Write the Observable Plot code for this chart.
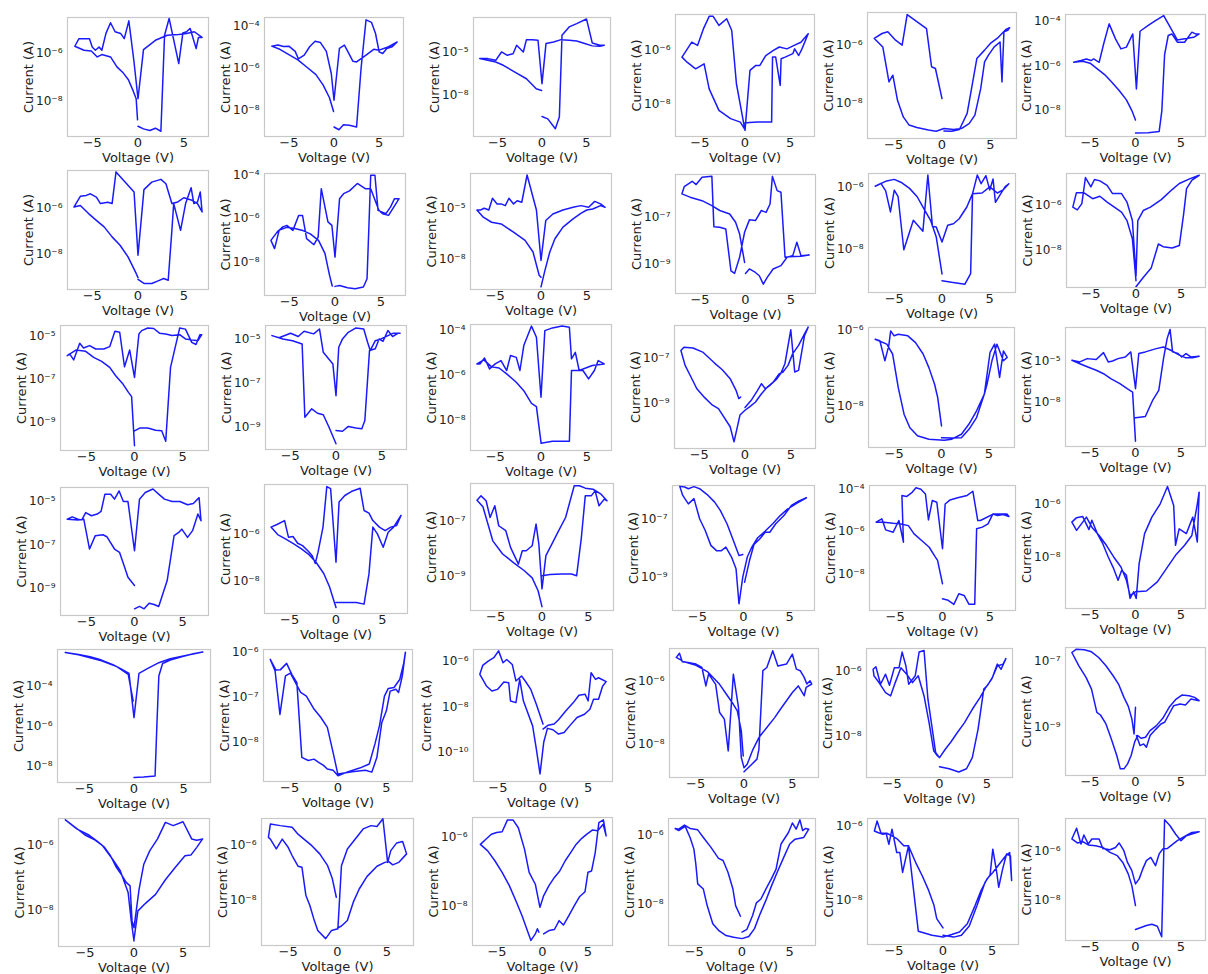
<!DOCTYPE html>
<html><head><meta charset="utf-8">
<script src="https://cdn.jsdelivr.net/npm/d3@7"></script>
<script src="https://cdn.jsdelivr.net/npm/@observablehq/plot@0.6"></script>
<style>
body{margin:0;background:#fff;}
#chart{position:relative;width:1208px;height:974px;overflow:hidden;background:#fff;}
#chart svg{position:absolute;}
#chart g[aria-label="y-axis tick label"] text{font-size:12px;}
</style></head><body><div id="chart"></div>
<script>
// Each curve: [voltage (V), log10 of current (A)], in sweep order.
const iv01=[[0,-9.06],[0.6,-9.17],[1.3,-9.24],[1.9,-9.14],[2.5,-9.27],[2.9,-5.23],[3.4,-4.52],[4.45,-6.42],[4.9,-5.13],[5.3,-5.08],[5.7,-4.94],[6.35,-5.79],[6.6,-5.32],[7,-5.32],[6.15,-5.08],[5.3,-5.15],[4.45,-5.2],[3.2,-5.23],[1.9,-5.44],[0.6,-5.83],[0,-7.9],[-0.45,-6.3],[-1,-4.62],[-1.5,-5.37],[-1.9,-5.15],[-2.5,-5.08],[-3,-4.7],[-3.5,-5.15],[-3.95,-5.86],[-4.25,-5.72],[-4.65,-5.86],[-5,-5.72],[-5.3,-5.37],[-5.9,-5.37],[-6.45,-5.37],[-6.9,-5.69],[-5.9,-5.86],[-5.1,-5.89],[-4.45,-6.14],[-3.95,-6.04],[-3,-6.14],[-2.3,-6.56],[-1.6,-6.82],[-1.05,-7.1],[-0.55,-7.55],[-0.2,-7.9],[-0.05,-8.79]];
const iv02=[[0,-8.79],[0.55,-8.92],[1.05,-8.68],[1.7,-8.71],[2.5,-8.79],[3,-6],[3.55,-3.7],[4.15,-3.82],[4.6,-4.35],[5,-5.22],[5.4,-5.3],[5.85,-5.06],[6.45,-4.98],[7,-4.75],[6.05,-4.98],[5,-5.14],[4.4,-5.1],[3.55,-5.38],[2.5,-5.7],[2.1,-5.67],[1.45,-5.14],[1.15,-4.9],[0.6,-5.06],[0,-7.52],[-0.3,-6.25],[-0.85,-5.2],[-1.5,-4.78],[-2.1,-4.72],[-2.7,-4.98],[-3.3,-5.38],[-3.95,-5.55],[-4.3,-5.2],[-5,-4.95],[-5.6,-4.97],[-6.2,-4.9],[-6.9,-4.95],[-6,-5.1],[-5,-5.35],[-4,-5.6],[-3,-5.95],[-2,-6.3],[-1.2,-6.8],[-0.5,-7.4],[-0.05,-8.05]];
const iv03=[[0,-9.46],[0.65,-9.62],[1.5,-10.31],[1.95,-9.5],[2.25,-3.85],[3.05,-3.27],[3.9,-3.04],[5,-2.72],[5.65,-4.38],[6.5,-4.54],[7,-4.54],[6.5,-4.6],[5.65,-4.58],[4.8,-4.42],[3.9,-4.24],[3.05,-4.19],[2.15,-4.15],[1.3,-4.31],[0.45,-4.42],[0,-7.19],[-0.45,-4.19],[-1.1,-4.15],[-1.75,-4.15],[-2.1,-5],[-2.85,-4.54],[-3.25,-5.12],[-3.9,-5.23],[-4.55,-5],[-5.2,-5.58],[-6.1,-5.46],[-7,-5.46],[-6.1,-5.58],[-5.2,-5.69],[-4.35,-5.92],[-3.05,-6.39],[-1.75,-6.85],[-0.65,-7.54],[-0.05,-7.66]];
const iv04=[[0,-8.72],[0.5,-8.7],[1.4,-8.69],[2.3,-8.69],[2.95,-8.69],[3.05,-6.25],[3.4,-6.25],[3.9,-7.31],[4,-6.31],[4.45,-6.25],[5.3,-6.12],[5.5,-5.94],[5.95,-6.19],[6.3,-5.95],[7,-5.37],[6.2,-5.69],[5.5,-5.8],[4.65,-5.94],[3.8,-5.87],[3.15,-6],[2.3,-6.19],[1.65,-6.56],[1.2,-6.56],[0.55,-6.75],[0,-9],[-0.95,-7.25],[-1.47,-5.25],[-2.03,-4.81],[-2.89,-5.06],[-3.53,-4.72],[-3.97,-4.72],[-4.61,-5.19],[-5.26,-5.81],[-5.9,-5.69],[-6.98,-6.25],[-6.42,-6.44],[-5.47,-6.69],[-4.53,-6.5],[-3.97,-7.44],[-2.89,-8.25],[-1.6,-8.56],[-0.52,-8.69],[0,-8.97]];
const iv05=[[0.2,-8.94],[1,-8.95],[1.8,-8.89],[2.6,-8.34],[3.6,-6.46],[4.4,-6.17],[5,-5.94],[5.8,-5.74],[6.6,-5.46],[7,-5.4],[6.8,-5.49],[6.4,-5.54],[6.2,-7.26],[6,-5.89],[5.4,-6.06],[4.8,-6.34],[4.4,-6.57],[4,-7.49],[3.4,-8.4],[2.8,-8.69],[2,-8.86],[1.2,-8.89],[0.2,-8.86],[-0.6,-8.95],[-1.4,-8.91],[-2.6,-8.82],[-3.4,-8.74],[-4,-8.46],[-4.6,-7.89],[-5.08,-7.03],[-5.48,-7.26],[-6.12,-6.06],[-7,-5.77],[-6.2,-5.6],[-5.6,-5.54],[-4.8,-5.83],[-4.12,-6],[-3.6,-4.95],[-1.6,-5.43],[-1.08,-6.74],[-0.68,-6.8],[0,-7.83]];
const iv06=[[0,-9],[1.4,-8.99],[2.6,-8.94],[2.9,-8],[3.2,-5.5],[3.6,-4.64],[4,-4.57],[4.6,-4.94],[5.4,-4.94],[6.2,-4.49],[6.6,-4.57],[7,-4.57],[6.4,-4.72],[5.4,-4.79],[4.6,-4.84],[3.1,-3.75],[2.2,-3.97],[1.4,-4.19],[0.5,-4.45],[0.1,-7.03],[-0.3,-4.57],[-1,-5.16],[-1.6,-5.24],[-2.2,-4.79],[-2.9,-4.12],[-3.5,-5.01],[-4,-5.84],[-4.6,-5.69],[-4.9,-5.76],[-5.4,-5.69],[-6,-5.76],[-6.8,-5.84],[-5.8,-5.79],[-5,-5.88],[-4.2,-6.13],[-3.4,-6.39],[-2.6,-6.73],[-1.8,-7.1],[-1,-7.52],[-0.4,-8],[0,-8.42]];
const iv07=[[0,-9.07],[0.65,-9.24],[1.5,-9.24],[2.2,-9.13],[2.8,-9.03],[3.3,-9.1],[3.7,-6.96],[3.9,-5.81],[4.65,-6.96],[5.2,-5.81],[5.8,-5.13],[6.1,-5.81],[6.5,-5.74],[6.8,-5.31],[7,-6.17],[6.5,-5.81],[5.9,-5.67],[5,-5.56],[4.35,-5.74],[3.7,-5.81],[3.05,-4.96],[2.5,-4.77],[1.5,-4.89],[0.65,-5.21],[0,-8.03],[-0.43,-5.31],[-2.4,-4.45],[-2.83,-5.81],[-3.3,-5.75],[-4.1,-5.81],[-4.55,-5.53],[-5.2,-5.39],[-5.65,-5.46],[-6.3,-5.5],[-7,-5.96],[-6.3,-5.89],[-5.4,-6.24],[-4.55,-6.53],[-3.7,-6.81],[-2.83,-7.24],[-1.96,-7.6],[-1.09,-8.1],[-0.2,-8.81],[0,-8.99]];
const iv08=[[0,-9.12],[0.5,-9.08],[1.37,-9.18],[2.2,-9.23],[3.1,-9.15],[3.5,-8.77],[3.9,-4],[4.36,-4],[4.7,-5.62],[5.56,-5.77],[6.07,-5.46],[6.5,-5.08],[7,-5.08],[5.85,-5.85],[5.2,-5.77],[4.8,-5.62],[3.9,-4.62],[3.3,-4.62],[2.44,-4.38],[1.58,-4.72],[0.94,-4.85],[0.5,-5.08],[0,-7.77],[-0.34,-6.31],[-0.77,-6.15],[-1.5,-4.62],[-1.84,-6.85],[-2.3,-7.2],[-3.1,-6.92],[-3.55,-5.85],[-3.97,-5.85],[-4.6,-6.54],[-5.26,-6.31],[-5.7,-6.38],[-6.1,-6.54],[-6.6,-7.38],[-7,-7],[-6.2,-6.55],[-5.3,-6.4],[-4.4,-6.45],[-3.5,-6.55],[-2.7,-6.7],[-1.8,-7],[-1.1,-7.6],[-0.6,-8.6],[-0.3,-9.1]];
const iv09=[[0,-9.67],[0.43,-8.69],[0.96,-7.6],[1.52,-6.81],[2.4,-6.12],[3.5,-5.63],[4.35,-5.3],[5,-5.1],[5.65,-5.04],[6.5,-4.84],[7,-4.94],[6.5,-4.74],[5.87,-4.59],[5.2,-4.94],[4.35,-4.84],[3.5,-4.94],[2.4,-5.1],[1.3,-5.34],[0.52,-5.73],[0,-8.1],[-0.5,-5.1],[-1.52,-3.02],[-2.1,-4.64],[-2.6,-4.55],[-3,-4.74],[-3.5,-4.4],[-3.9,-4.84],[-4.35,-4.74],[-4.8,-4.74],[-5.3,-4.4],[-5.7,-5.1],[-6.2,-5],[-6.6,-5.1],[-7,-5.1],[-6.3,-5.53],[-5.4,-5.83],[-4.35,-5.93],[-3,-6.42],[-1.74,-6.91],[-0.87,-7.6],[-0.2,-8.98],[0,-9.1]];
const iv10=[[0,-9.4],[0.43,-9.21],[1.09,-9.36],[1.52,-9.5],[1.96,-9.86],[2.39,-9.57],[3.04,-9.21],[3.9,-9.07],[4.57,-8.71],[5.2,-8.64],[5.65,-8.07],[6.1,-8.64],[7,-8.61],[6.1,-8.67],[4.8,-8.69],[4.35,-8.71],[3.9,-5.93],[3.48,-5.86],[2.96,-5.25],[2.7,-6.43],[2.26,-6.79],[1.74,-6.71],[1.09,-7.14],[0.43,-7.11],[-0.1,-7.64],[-0.65,-8.71],[-1.2,-9.4],[-1.6,-9.29],[-2.17,-7.5],[-2.83,-7.43],[-3.48,-7.4],[-3.7,-5.25],[-4.78,-5.29],[-5.43,-5.6],[-5.87,-5.46],[-6.74,-5.69],[-7,-6],[-6.1,-6.14],[-4.78,-6.29],[-3.7,-6.5],[-2.83,-6.71],[-1.74,-6.86],[-1.09,-7.21],[-0.65,-7.71],[-0.1,-8.93]];
const iv11=[[0,-9.03],[1,-9.08],[2.4,-9.14],[3,-8.8],[3.2,-6.22],[3.7,-5.62],[4.1,-5.9],[4.6,-5.64],[5,-6.1],[5.35,-5.75],[5.6,-6.5],[6,-6.3],[6.6,-6],[7,-5.9],[6.4,-6.1],[5.8,-6.2],[5,-6],[4.2,-6.2],[3.2,-6.22],[2.6,-6.65],[1.8,-7.03],[1.2,-7.19],[0.6,-7.24],[0,-7.78],[-0.6,-7.3],[-1,-7.28],[-1.48,-5.62],[-2,-7.43],[-3,-7.08],[-4,-8.03],[-4.6,-6.32],[-5,-6.11],[-5.4,-6.81],[-5.9,-6.13],[-6.4,-5.89],[-7,-5.98],[-5.8,-5.81],[-5,-5.76],[-4.2,-5.87],[-3.4,-6.05],[-2.6,-6.32],[-1.8,-6.76],[-1.2,-7.08],[-0.6,-7.62],[0,-8.81]];
const iv12=[[0,-9.65],[0.8,-9.23],[1.68,-8.81],[2.48,-7.73],[3,-7.85],[4,-7.91],[4.8,-7.8],[5.28,-6.38],[5.6,-5.25],[6.2,-4.87],[7,-4.65],[6,-4.8],[4.8,-5.02],[4,-5.29],[2.8,-5.74],[1.6,-6.08],[0.8,-6.23],[0.2,-6.68],[0,-9.16],[-0.4,-6.68],[-1,-5.85],[-1.6,-5.47],[-2.6,-5.47],[-3.2,-5.1],[-4,-4.9],[-4.6,-4.84],[-5,-5.17],[-5.6,-4.75],[-6,-5.92],[-6.5,-6.2],[-7,-6.08],[-6.6,-5.43],[-5.8,-5.43],[-4.8,-5.7],[-4,-5.59],[-3.2,-5.85],[-2.4,-6.08],[-1.6,-6.3],[-1,-6.68],[-0.4,-7.5],[0,-9.38]];
const iv13=[[0,-9.41],[0.54,-9.28],[1.38,-9.28],[2.2,-9.38],[2.83,-9.41],[3.25,-9.9],[3.75,-6.44],[4.7,-4.6],[5.3,-4.65],[5.96,-5.27],[6.4,-5.37],[6.8,-4.91],[7,-4.91],[6.6,-5.19],[5.3,-5.11],[4.7,-4.91],[3.9,-4.95],[3.25,-4.88],[2.6,-4.84],[2,-4.62],[1.38,-4.6],[0.75,-4.72],[0.46,-4.88],[0,-6.91],[-0.5,-5.63],[-1.04,-6.41],[-1.54,-4.8],[-2.04,-4.75],[-2.58,-5.47],[-3.2,-5.58],[-4.04,-5.58],[-4.67,-5.42],[-5.3,-5.53],[-5.7,-5.31],[-6.33,-6.09],[-6.75,-5.81],[-7,-5.89],[-6.1,-5.63],[-5.08,-5.69],[-4.25,-5.97],[-3.42,-6.16],[-2.58,-6.44],[-1.96,-6.83],[-1.2,-7.22],[-0.63,-7.61],[-0.3,-7.81],[0,-10.11]];
const iv14=[[0,-9.17],[0.71,-9.2],[1.34,-8.98],[2.18,-9.05],[2.82,-9.09],[3.15,-8.71],[3.66,-5.53],[4.29,-5.45],[4.71,-5],[5.13,-5.11],[5.67,-4.62],[6.18,-4.89],[6.8,-4.74],[7,-4.74],[6.26,-4.74],[4.92,-5],[4.29,-5.08],[3.74,-5.53],[3.45,-5.15],[3.03,-4.55],[2.18,-4.5],[1.34,-4.7],[0.71,-5],[0.3,-5.38],[0,-7.58],[-0.34,-6.14],[-1.39,-5.61],[-1.8,-4.55],[-2.44,-4.77],[-3.49,-4.65],[-4.12,-4.89],[-4.96,-4.74],[-6.22,-4.95],[-7,-4.85],[-5.8,-5],[-4.75,-5.08],[-3.7,-5.23],[-3.4,-8.56],[-2.65,-8.18],[-2.02,-8.38],[-1.39,-8.45],[-0.76,-9.02],[0,-9.77]];
const iv15=[[0,-9],[1.25,-8.91],[3.1,-8.91],[3.33,-5.79],[3.96,-5.79],[4.58,-5.79],[5.2,-6.16],[5.83,-5.79],[6.25,-5.35],[6.9,-5.5],[5.6,-5.57],[4.17,-5.79],[3.75,-4.99],[3.33,-5.28],[3.1,-3.88],[2.3,-3.83],[1.25,-3.91],[0.42,-4.03],[0,-6.97],[-0.5,-4.32],[-1.04,-3.83],[-1.88,-4.69],[-2.3,-5.79],[-2.7,-5.21],[-3.33,-5.13],[-3.75,-5.79],[-4.37,-5.35],[-5,-5.5],[-5.62,-5.72],[-6.17,-5.24],[-6.67,-5.5],[-7,-5.5],[-6.25,-5.32],[-5.42,-5.62],[-4.58,-5.68],[-3.75,-5.94],[-2.7,-6.31],[-1.88,-6.68],[-1.04,-7.24],[-0.5,-7.38],[0,-8.96]];
const iv16=[[0,-9.17],[0.73,-8.83],[1.37,-8.42],[1.8,-8.13],[2.22,-8.35],[2.74,-8.2],[3.5,-7.91],[3.93,-7.67],[4.36,-7.26],[5,-5.78],[5.43,-7.62],[5.85,-7.55],[6.5,-6.03],[6.9,-5.66],[6.5,-5.96],[5.85,-6.46],[5.2,-6.83],[4.7,-7.33],[4.15,-7.62],[3.72,-7.7],[3.08,-8.06],[2.44,-8.28],[1.8,-8.57],[1.15,-8.93],[0.5,-9.14],[0,-9.29],[-0.55,-9.5],[-1.2,-10.67],[-1.62,-10.01],[-2.9,-9.22],[-3.55,-9.07],[-4.4,-8.74],[-5.26,-8.35],[-5.9,-7.84],[-6.54,-7.33],[-7,-6.68],[-6.67,-6.54],[-5.68,-6.57],[-4.62,-6.75],[-3.33,-7.23],[-2.48,-7.52],[-1.62,-7.91],[-0.98,-8.42],[-0.68,-8.78],[-0.47,-8.71]];
const iv17=[[0,-8.84],[1.09,-8.85],[2.1,-8.84],[2.9,-8.62],[3.7,-8.31],[4.52,-7.69],[5.12,-6.59],[5.6,-6.37],[6.13,-7.25],[6.53,-6.55],[6.93,-6.72],[6.53,-6.81],[5.85,-6.37],[5.32,-6.81],[4.8,-7.43],[4.52,-7.69],[3.7,-8.13],[2.9,-8.48],[2.1,-8.75],[1.09,-8.88],[0.28,-8.91],[-1.33,-8.88],[-2.54,-8.79],[-3.35,-8.57],[-3.95,-8.22],[-4.56,-7.52],[-5.16,-6.63],[-5.77,-6.37],[-7,-6.24],[-6.5,-6.28],[-5.97,-6.81],[-5.56,-6.41],[-5.36,-6.02],[-5,-6.15],[-4.56,-6.11],[-3.55,-6.15],[-2.74,-6.33],[-1.94,-6.63],[-1.33,-6.99],[-0.73,-7.43],[-0.4,-7.78],[0,-8.53]];
const iv18=[[0,-9.15],[0.48,-9.1],[1.08,-9.05],[1.88,-7.88],[2.56,-7.15],[3.08,-4.83],[3.48,-3.37],[3.8,-2.7],[4.08,-4.34],[4.68,-4.46],[5.08,-4.71],[5.56,-4.46],[6.08,-4.71],[7,-4.66],[6.28,-4.76],[5.48,-4.76],[4.88,-4.59],[3.88,-4.22],[3.08,-3.98],[2.28,-4.1],[1.08,-4.34],[0.36,-4.46],[0,-7.02],[-0.52,-4.34],[-1.12,-4.71],[-1.92,-4.83],[-2.52,-5],[-3,-5.07],[-3.52,-4.39],[-4.32,-4.9],[-5.32,-4.83],[-6.12,-5.07],[-7,-4.95],[-6.12,-5.2],[-5.24,-5.44],[-4.32,-5.68],[-3.52,-5.93],[-2.72,-6.29],[-1.72,-6.66],[-0.92,-7.02],[-0.32,-7.27],[0,-10.85]];
const iv19=[[0,-9.97],[0.52,-9.86],[1,-9.97],[1.52,-9.71],[2.04,-9.77],[2.52,-9.86],[3.4,-8.66],[4.12,-6.58],[4.6,-6.43],[4.92,-6.28],[5.52,-6.66],[6.04,-6.35],[6.6,-5.58],[6.92,-5.89],[6.72,-4.82],[6.12,-5.09],[5.52,-5.15],[4.72,-5],[3.92,-5],[3.12,-4.89],[2.6,-4.69],[1.92,-4.42],[1.12,-4.58],[0.52,-4.89],[0,-7.28],[-0.68,-5],[-1.16,-5],[-1.6,-4.51],[-2.08,-4.89],[-2.48,-4.66],[-3.08,-4.66],[-3.48,-5.46],[-3.88,-5.58],[-4.48,-5.66],[-5.08,-5.51],[-5.48,-5.85],[-5.88,-5.82],[-6.48,-5.71],[-7,-5.82],[-5.88,-5.86],[-5.28,-5.82],[-4.68,-7.2],[-4.08,-6.58],[-3.28,-6.54],[-2.88,-6.63],[-2.08,-7.2],[-1.56,-7.35],[-1.08,-7.97],[-0.68,-8.51],[0,-8.89]];
const iv20=[[0,-8.93],[1.16,-8.93],[2.19,-8.93],[3.02,-9],[3.55,-7.71],[3.97,-5.71],[4.46,-6],[5.08,-6.57],[5.62,-5.93],[6.2,-5.71],[7,-5.21],[6.53,-5.64],[5.9,-5.71],[5.29,-5.86],[4.67,-5.71],[3.97,-5.43],[3.55,-5.11],[3.02,-5],[2.6,-4.05],[1.65,-4.19],[0.95,-4.36],[0.33,-4.64],[0,-7.21],[-0.58,-4.07],[-0.99,-3.98],[-1.4,-5.71],[-1.94,-6.79],[-2.23,-7.26],[-2.56,-6.93],[-2.98,-6.74],[-3.6,-6.5],[-4.13,-6.4],[-4.63,-6.11],[-5.12,-6.14],[-5.54,-5.43],[-6.36,-5.6],[-7,-5.71],[-6.28,-6.03],[-5.45,-6.21],[-4.55,-6.43],[-3.72,-6.64],[-2.98,-6.86],[-2.15,-7.21],[-1.32,-7.69],[-0.7,-8.26],[-0.17,-8.93],[0,-9.14]];
const iv21=[[0,-9],[0.85,-8.96],[2.12,-8.94],[3.18,-8.94],[3.73,-9],[4.24,-7.61],[4.66,-6.09],[5.3,-6.09],[5.72,-5.91],[6.14,-6.45],[6.7,-6.21],[7,-6.27],[6.36,-6.03],[5.5,-5.85],[4.66,-5.81],[4.03,-5.72],[3.47,-5.72],[2.54,-6.88],[1.7,-7.42],[1.06,-7.85],[0.42,-8.27],[0,-9.48],[-0.34,-7.85],[-0.64,-7.12],[-1.06,-7.91],[-1.7,-8.09],[-2.12,-8.09],[-2.54,-8.58],[-3.39,-7.97],[-3.9,-7.36],[-4.66,-7.18],[-5.08,-6.45],[-5.59,-6.88],[-6.02,-6.27],[-6.57,-6.09],[-7,-6.25],[-6.36,-6.49],[-5.3,-7.73],[-4.24,-8.21],[-2.97,-8.55],[-1.9,-8.82],[-1.06,-9.08],[-0.42,-9.55],[0,-10.13]];
const iv22=[[-0.08,-8.22],[-0.49,-8.26],[-1.1,-7.74],[-1.79,-7.17],[-2.52,-6.71],[-3.13,-6.43],[-3.94,-6.17],[-4.76,-5.97],[-5.37,-5.9],[-5.98,-5.97],[-6.38,-5.91],[-6.91,-5.89],[-6.59,-6.2],[-5.98,-6.49],[-5.37,-6.31],[-4.76,-7],[-4.15,-7.4],[-3.54,-7.91],[-2.93,-8.09],[-2.4,-8.09],[-1.91,-7.97],[-1.3,-8.31],[-0.81,-8.71],[-0.49,-9.91],[-0.08,-9],[0.41,-8.31],[0.93,-7.95],[1.54,-7.65],[2.36,-7.42],[3.17,-7.17],[3.98,-6.89],[4.8,-6.66],[5.81,-6.46],[6.83,-6.28],[6.02,-6.39],[5.2,-6.54],[4.39,-6.89],[3.5,-7.17],[2.85,-7.46],[2.36,-7.46],[1.75,-7.69],[1.14,-7.88],[0.65,-8.43],[0.12,-9.17]];
const iv23=[[0,-9.18],[0.6,-9.25],[1.2,-9.44],[1.72,-8.94],[2.28,-9.02],[2.8,-9.44],[3.4,-9.44],[3.6,-5.88],[4.2,-5.8],[4.8,-5.65],[5.32,-5.18],[5.8,-5.25],[6.4,-5.21],[7,-5.3],[6.8,-5.18],[6.2,-5.18],[5.4,-5.18],[4,-5.49],[3.72,-5.49],[3.2,-4.11],[2.6,-4.31],[1.6,-4.42],[0.8,-4.52],[0.28,-4.71],[0,-6.82],[-0.6,-4.63],[-1.08,-4.55],[-1.48,-5.46],[-1.8,-4.24],[-2.28,-4.02],[-2.8,-3.95],[-3.2,-4.16],[-3.8,-4.36],[-4.28,-4.31],[-4.12,-6.51],[-4.6,-5.49],[-5.2,-6.04],[-6,-5.93],[-6.4,-5.41],[-7,-5.57],[-6.2,-5.57],[-5.2,-5.62],[-4.4,-5.65],[-3.6,-5.73],[-3,-6.12],[-2.2,-6.43],[-1.4,-6.75],[-0.8,-7.18],[-0.52,-7.37],[0,-8.47]];
const iv24=[[0,-9.31],[1.2,-9.28],[2.4,-8.94],[3.4,-8.44],[4.4,-7.94],[5.4,-7.56],[6.2,-7.19],[6.8,-6],[7,-5.56],[6.8,-7.44],[6.3,-6.5],[5.6,-7.12],[4.8,-6.94],[4.4,-7.56],[4.2,-6.06],[3.52,-5.35],[2.72,-6],[1.8,-6.5],[1,-7.12],[0.4,-8.25],[0.08,-9.56],[-0.2,-9.31],[-0.6,-9.56],[-1,-8.69],[-1.52,-8.5],[-1.92,-8.88],[-2.4,-8.44],[-3,-8],[-3.6,-7.5],[-4.2,-7.12],[-4.8,-6.62],[-5.12,-6.97],[-5.8,-6.48],[-6.48,-6.52],[-7,-6.69],[-6.48,-7],[-5.4,-6.5],[-4.8,-6.88],[-4,-7.19],[-3.2,-7.56],[-2.4,-8],[-1.6,-8.38],[-1,-8.88],[-0.6,-9.44],[-0.1,-9.35]];
const iv25=[[0,-8.58],[0.96,-8.55],[2.12,-8.5],[2.3,-6],[2.5,-3.5],[2.88,-2.87],[3.65,-2.7],[4.8,-2.53],[5.96,-2.38],[6.92,-2.3],[5.2,-2.47],[3.65,-2.63],[2.5,-2.83],[1.35,-3.13],[0.5,-3.37],[0,-5.58],[-0.5,-3.37],[-1.35,-3.13],[-2.12,-2.93],[-3.27,-2.7],[-4.42,-2.53],[-5.58,-2.42],[-6.92,-2.32],[-5.58,-2.43],[-3.27,-2.73],[-1.73,-3.03],[-0.58,-3.42],[-0.08,-4.75]];
const iv26=[[0,-8.72],[1.46,-8.67],[2.83,-8.64],[3.5,-8.68],[4.02,-8.35],[4.53,-7.57],[5,-7.31],[5.39,-6.87],[5.98,-6.83],[6.26,-6.9],[6.65,-6.53],[6.97,-6],[6.77,-6.27],[6.38,-6.61],[5.79,-6.79],[5.2,-6.81],[4.8,-6.98],[4.29,-7.64],[3.82,-8.05],[3.23,-8.5],[2.24,-8.59],[1.06,-8.67],[0,-8.76],[-0.51,-8.64],[-1.1,-8.61],[-1.5,-8.53],[-2,-8.46],[-2.48,-8.39],[-3.07,-8.42],[-3.74,-8.35],[-4.25,-6.68],[-4.76,-6.5],[-5.31,-6.25],[-5.94,-6.39],[-6.42,-6.4],[-7,-6.16],[-6.5,-6.42],[-6,-7.39],[-5.43,-6.53],[-4.92,-6.47],[-3.86,-6.9],[-3.27,-6.98],[-2.48,-7.27],[-1.77,-7.46],[-1.1,-7.68],[-0.51,-8.24],[0,-8.74]];
const iv27=[[0,-8.98],[0.57,-8.81],[1.23,-8.76],[1.72,-8.57],[2.54,-8.18],[3.36,-7.82],[3.98,-7.5],[4.67,-7.45],[5,-7.75],[5.33,-6.51],[5.82,-6.8],[6.15,-6.73],[7,-6.9],[6.6,-7.1],[6.15,-7.67],[5.6,-7.67],[5.2,-8.11],[4.6,-8.33],[3.77,-8.47],[2.95,-8.84],[2.34,-9.13],[1.72,-9.2],[1.1,-9.01],[0.49,-8.95],[0.08,-9.56],[-0.33,-10.95],[-0.74,-9.85],[-1.15,-8.84],[-2.17,-7.75],[-2.58,-6.8],[-3,-7.82],[-3.6,-7.75],[-3.8,-6.95],[-4.34,-6.92],[-5.04,-7.24],[-5.66,-7.31],[-6.27,-7.09],[-6.68,-6.8],[-7,-6.58],[-6.68,-6.19],[-6.07,-6],[-5.45,-5.85],[-4.92,-5.55],[-4.43,-6.07],[-4.02,-5.93],[-3.4,-6.15],[-3,-6.87],[-2.38,-6.65],[-1.97,-6.87],[-1.35,-7.24],[-0.74,-7.89],[0,-8.76]];
const iv28=[[0,-8.87],[0.65,-8.68],[1.34,-8.47],[1.54,-8.16],[1.95,-5.68],[2.36,-5.58],[2.97,-5.05],[3.5,-5.53],[4.39,-5.47],[5,-5.16],[5.41,-5.63],[5.81,-5.68],[6.22,-5.89],[6.5,-6.1],[6.83,-6],[7,-6.1],[6.42,-6.21],[6.22,-6.47],[5.61,-6.16],[5,-6.37],[4.39,-6.63],[3.78,-6.89],[3.17,-7.16],[2.36,-7.47],[1.54,-7.79],[0.93,-8.16],[0.33,-8.63],[0,-8.74],[-0.28,-8.42],[-0.57,-6.84],[-1.1,-5.79],[-1.63,-8.21],[-2.03,-7.21],[-2.52,-7],[-2.93,-6.11],[-3.66,-5.79],[-3.94,-6.16],[-4.35,-5.58],[-4.96,-5.47],[-5.77,-5.42],[-6.38,-5.4],[-6.67,-5.13],[-7,-5.26],[-6.18,-5.4],[-4.96,-5.51],[-3.74,-5.72],[-2.52,-6.11],[-1.71,-6.47],[-1.1,-6.74],[-0.69,-6.95],[-0.28,-7.58],[-0.08,-8.37]];
const iv29=[[0,-8.95],[1.02,-9.01],[2.03,-9.11],[2.85,-9.01],[3.46,-8.67],[4.07,-7.79],[4.67,-6.56],[5.08,-6.44],[5.57,-6.21],[6.1,-5.79],[6.5,-5.95],[7,-5.62],[6.7,-5.79],[6.1,-5.85],[5.49,-6.26],[4.88,-6.51],[4.27,-6.82],[3.46,-7.18],[2.64,-7.59],[1.83,-7.92],[1.22,-8.18],[0.61,-8.41],[0,-8.67],[-0.41,-8.51],[-0.81,-7.69],[-1.22,-6.87],[-1.63,-5.37],[-2.15,-5.42],[-2.56,-6.15],[-3.25,-6.41],[-3.54,-5.85],[-3.94,-5.42],[-4.27,-5.9],[-4.76,-5.9],[-5.28,-6.44],[-5.69,-6.1],[-6.22,-6.41],[-6.71,-5.87],[-7,-5.95],[-6.91,-6.15],[-6.38,-6.36],[-5.69,-6.67],[-5.16,-6.77],[-4.67,-6.36],[-4.07,-5.9],[-3.46,-6.1],[-2.85,-6.36],[-2.24,-6.15],[-1.63,-6.77],[-1.1,-7.59],[-0.61,-8.46],[-0.2,-8.62]];
const iv30=[[0.1,-9.25],[0.5,-9.55],[0.9,-9.5],[1.2,-9.6],[1.6,-9.25],[2.2,-9.07],[2.8,-8.9],[3.2,-8.85],[3.7,-8.6],[4.2,-8.35],[4.9,-8.3],[5.5,-8.33],[6.1,-8.15],[7,-8.2],[6.5,-8.1],[5.9,-8.05],[5.1,-8.03],[4.4,-8.17],[3.7,-8.4],[3,-8.73],[2.3,-8.95],[1.6,-9.1],[1.1,-9.3],[0.6,-9.33],[0.25,-9.25],[-0.08,-9.43],[-0.48,-9.85],[-0.87,-10.1],[-1.27,-10.25],[-1.67,-10.25],[-2.06,-9.85],[-2.66,-9.35],[-3.25,-8.9],[-3.85,-8.63],[-4.25,-8.55],[-4.84,-7.85],[-5.44,-7.5],[-6.23,-7.15],[-7,-6.75],[-6.5,-6.65],[-5.63,-6.67],[-4.84,-6.73],[-4.05,-6.9],[-3.25,-7.15],[-2.46,-7.45],[-1.87,-7.7],[-1.27,-8.1],[-0.79,-8.37],[-0.4,-8.75],[-0.16,-9.2],[0,-8.4]];
const iv31=[[0,-8.91],[0.4,-8.03],[1.2,-7.79],[2.2,-7.52],[3.2,-7.07],[4.2,-6.69],[5.2,-6.33],[5.8,-6.31],[6.4,-6.07],[7,-5.81],[6.4,-5.85],[5.88,-5.81],[5,-5.28],[4,-5.4],[3.2,-5.3],[2.4,-5.81],[1.6,-6.18],[1,-6.59],[0.52,-7.36],[0,-8.55],[-0.2,-8.34],[-0.4,-7.26],[-0.8,-7.15],[-1.2,-6.95],[-1.8,-6.69],[-2.4,-6.33],[-3,-6.07],[-3.8,-5.87],[-4.6,-5.69],[-5.8,-5.51],[-7,-5.22],[-6,-5.45],[-5,-5.69],[-4,-5.84],[-3.2,-6.02],[-2.2,-6.43],[-1.4,-6.79],[-0.6,-7.46],[-0.28,-8.34],[0,-8.96]];
const iv32=[[0,-9.01],[0.4,-8.93],[1,-8.73],[1.6,-8.06],[2.2,-7.58],[3,-7.12],[4,-6.75],[4.8,-6.61],[5.2,-6.58],[5.6,-6.7],[6.2,-6.61],[7,-6.3],[6.6,-5.85],[6,-5.9],[5.4,-6.18],[5.08,-6.61],[4.6,-5.02],[4,-5.3],[3.4,-5.27],[2.6,-5.39],[1.8,-5.76],[1,-6.12],[0.4,-6.73],[0.04,-9.03],[-0.6,-9.09],[-1.2,-9.39],[-2,-9.09],[-2.4,-8.67],[-2.8,-8.18],[-3.2,-7.82],[-3.6,-6.79],[-4,-6.75],[-4.6,-6.36],[-5,-6.06],[-5.6,-5.76],[-6.2,-6.12],[-6.8,-5.76],[-7,-5.7],[-6.8,-5.21],[-5.8,-5.27],[-4.6,-5.33],[-4,-5.58],[-3.4,-5.76],[-2.6,-6],[-1.8,-6.3],[-1,-6.73],[-0.52,-7.21],[-0.12,-7.88]];
const iv33=[[0.12,-8.83],[0.71,-8.73],[1.31,-8.7],[1.83,-8.44],[2.3,-8.57],[2.9,-8.29],[3.5,-8],[4.1,-7.73],[4.68,-7.59],[5,-7.02],[5.4,-6.98],[5.8,-6.44],[6.2,-5.56],[6.7,-5.48],[7,-5.95],[6.67,-5.61],[6.07,-5.8],[5.48,-5.78],[4.88,-5.9],[4.29,-6.03],[3.69,-6.2],[3.1,-6.44],[2.5,-6.68],[1.9,-6.98],[1.31,-7.17],[0.71,-7.41],[0.12,-7.71],[-0.28,-8.05],[-0.79,-7.37],[-1.47,-7.02],[-1.98,-6.34],[-2.66,-5.71],[-3.25,-5.48],[-3.85,-5.48],[-4.44,-5.83],[-5.04,-5.85],[-5.63,-5.9],[-6.23,-6.05],[-6.83,-6.2],[-6.03,-6.39],[-5.24,-6.68],[-4.44,-7.02],[-3.65,-7.41],[-2.86,-7.9],[-2.26,-8.29],[-1.67,-8.73],[-1.27,-9.02],[-0.79,-8.83],[-0.56,-8.68],[-0.4,-8.78]];
const iv34=[[0,-8.82],[0.52,-8.74],[1.11,-8.34],[1.51,-7.97],[1.98,-7.86],[2.5,-7.57],[3.1,-7.26],[3.57,-6.99],[4.09,-6.26],[4.88,-5.92],[5.28,-5.65],[5.67,-5.83],[6.07,-5.56],[6.35,-5.87],[6.67,-5.81],[7,-5.83],[6.47,-6.07],[5.56,-6.12],[5,-6.26],[4.29,-6.7],[3.69,-7.08],[3.1,-7.47],[2.5,-7.9],[1.9,-8.29],[1.31,-8.72],[0.71,-8.95],[0,-9.01],[-0.87,-8.97],[-1.67,-8.92],[-2.46,-8.77],[-3.06,-8.58],[-3.65,-8.05],[-4.05,-7.57],[-4.64,-7.42],[-4.84,-6.84],[-5.04,-6.41],[-5.44,-6.07],[-5.95,-5.75],[-6.63,-5.87],[-7,-5.81],[-6.63,-5.83],[-6.03,-5.71],[-5.44,-5.81],[-4.64,-5.85],[-4.05,-6.07],[-3.25,-6.36],[-2.46,-6.68],[-1.98,-6.74],[-1.47,-7.08],[-0.95,-7.57],[-0.67,-8.05],[-0.16,-8.36]];
const iv35=[[0,-8.94],[1.08,-8.99],[1.88,-8.94],[2.68,-8.69],[3.48,-8.13],[4.28,-7.51],[4.8,-7.31],[5.08,-6.61],[5.48,-7.24],[5.68,-7.64],[6.08,-7.15],[6.48,-6.74],[6.88,-6.79],[7,-7.46],[6.8,-6.7],[6.4,-6.79],[5.08,-7.24],[4.48,-7.42],[3.88,-7.73],[3.28,-8.13],[2.48,-8.63],[1.68,-8.85],[0.88,-8.92],[0,-8.99],[-1.12,-8.94],[-2.52,-8.83],[-3.52,-6.52],[-4.12,-7.24],[-4.4,-6.7],[-4.72,-6.7],[-5.2,-6.07],[-5.52,-6.48],[-5.8,-6.18],[-6.32,-6.18],[-6.72,-5.85],[-7,-6.12],[-6.64,-6.16],[-6.12,-6.21],[-5.72,-6.18],[-5.2,-6.25],[-4.64,-6.34],[-4,-6.52],[-3.52,-6.52],[-2.72,-7.01],[-2.12,-7.33],[-1.52,-7.69],[-0.92,-8.13],[-0.64,-8.49],[0,-8.74]];
const iv36=[[0,-9.16],[0.6,-9.08],[1.2,-9],[1.8,-8.95],[2.4,-9.03],[2.88,-9.45],[3.2,-4.76],[3.8,-5],[4.4,-5.33],[5,-5.6],[5.6,-5.4],[6.2,-5.33],[7,-5.24],[6.2,-5.27],[5.4,-5.43],[4.6,-5.6],[4,-5.77],[3.52,-5.91],[3,-5.93],[2.6,-6.13],[2.2,-6.6],[1.68,-6.27],[1.2,-6.4],[0.8,-6.73],[0.4,-7.13],[0,-7.33],[-0.4,-6.8],[-0.88,-6.47],[-1.28,-6],[-1.8,-5.69],[-2.2,-5.87],[-2.8,-5.96],[-3.6,-5.91],[-4,-5.53],[-4.8,-5.53],[-5.2,-5.73],[-5.68,-5.37],[-6,-5.73],[-6.48,-5.1],[-7,-5.53],[-6.4,-5.69],[-5.8,-5.64],[-5.2,-5.77],[-4.4,-5.8],[-3.6,-5.87],[-2.8,-6.07],[-2,-6.2],[-1.4,-6.47],[-0.8,-6.93],[-0.4,-7.4],[0,-8.2]];

const curves=[iv01,iv02,iv03,iv04,iv05,iv06,iv07,iv08,iv09,iv10,iv11,iv12,iv13,iv14,iv15,iv16,iv17,iv18,iv19,iv20,iv21,iv22,iv23,iv24,iv25,iv26,iv27,iv28,iv29,iv30,iv31,iv32,iv33,iv34,iv35,iv36];

// y-axis range per panel, as log10 of current [bottom, top]
const yRange=[[-9.49,-4.48],[-9.24,-3.59],[-10.84,-2.62],[-9.23,-4.65],[-9.2,-4.88],[-9.16,-3.7],
[-9.5,-4.39],[-9.54,-3.92],[-9.83,-2.93],[-10.26,-5.17],[-9.41,-5.57],[-9.68,-4.57],
[-10.33,-4.48],[-10.03,-4.39],[-9.32,-3.76],[-10.96,-5.59],[-9.1,-5.93],[-11.24,-2.56],
[-10.28,-4.35],[-9.4,-3.89],[-10.27,-5.64],[-10.14,-5.86],[-9.73,-3.84],[-9.94,-5.31],
[-8.83,-2.17],[-8.89,-5.94],[-11.28,-5.49],[-9.05,-4.98],[-9.28,-5.31],[-10.45,-6.6],
[-9.13,-5.18],[-9.64,-5.01],[-9.17,-5.41],[-9.21,-5.52],[-9.19,-5.78],[-9.6,-4.71]];

// labelled decades (exponents) per panel
const yTickExp=[[-6,-8],[-4,-6,-8],[-5,-8],[-6,-8],[-6,-8],[-4,-6,-8],
[-6,-8],[-4,-6,-8],[-5,-8],[-7,-9],[-6,-8],[-6,-8],
[-5,-7,-9],[-5,-7,-9],[-4,-6,-8],[-7,-9],[-6,-8],[-5,-8],
[-5,-7,-9],[-6,-8],[-7,-9],[-7,-9],[-4,-6,-8],[-6,-8],
[-4,-6,-8],[-6,-7,-8],[-6,-8,-10],[-6,-8],[-6,-8],[-7,-9],
[-6,-8],[-6,-8],[-6,-8],[-6,-8],[-6,-8],[-6,-8]];

const xTicks=[-5,0,5];

// layout: plot-frame box of each panel on the page [left, top, right, bottom]
const frames=[[67,17,208,136],[264,17,403,136],[473,17,610,136],[675,14,814,136],[867,12,1016,138],[1065,14,1205,136],
[67,170,208,289],[264,173,405,295],[470,173,611,289],[675,174,815,293],[868,173,1015,292],[1066,173,1205,287],
[60,325,208,450],[265,325,406,449],[470,324,611,450],[674,325,815,448],[868,327,1014,447],[1065,327,1205,446],
[60,487,208,615],[264,484,407,613],[470,483,613,610],[672,485,814,610],[869,485,1015,610],[1065,485,1205,608],
[57,649,210,782],[263,649,412,781],[473,649,612,781],[669,648,818,777],[866,648,1012,777],[1065,647,1205,775],
[58,818,209,946],[261,818,413,945],[472,817,612,945],[668,818,815,945],[867,818,1018,944],[1065,818,1205,940]];

const SUP={"-":"\u207B","0":"\u2070","1":"\u00B9","2":"\u00B2","3":"\u00B3","4":"\u2074","5":"\u2075","6":"\u2076","7":"\u2077","8":"\u2078","9":"\u2079"};
const powLabel = v => "10" + String(Math.round(Math.log10(v))).split("").map(c => SUP[c]).join("");
const ML=75, MR=8, MT=8, MB=34;
const chart=document.getElementById("chart");

curves.forEach((c,i)=>{
  const [x0,y0,x1,y1]=frames[i];
  const data=c.map(([v,e])=>({V:v, I:Math.pow(10,e)}));
  const wide = yTickExp[i].some(e=>e<=-10);
  const svg=Plot.plot({
    width:x1-x0+ML+MR, height:y1-y0+MT+MB,
    marginLeft:ML, marginRight:MR, marginTop:MT, marginBottom:MB,
    style:{fontFamily:"DejaVu Sans, sans-serif", fontSize:"13px", background:"transparent", overflow:"visible", color:"#222", maxWidth:"none"},
    x:{domain:[-7.7,7.7], ticks:xTicks, tickFormat:d=>d<0?"\u2212"+(-d):String(d), tickSize:0, tickPadding:1,
       label:"Voltage (V)", labelAnchor:"center", labelArrow:"none", labelOffset:25},
    y:{type:"log", domain:[Math.pow(10,yRange[i][0]),Math.pow(10,yRange[i][1])], ticks:yTickExp[i].map(e=>Math.pow(10,e)),
       tickFormat:powLabel, tickSize:0, tickPadding:5, label:"Current (A)", labelAnchor:"center", labelArrow:"none",
       labelOffset: wide?52:44},
    marks:[
      Plot.frame({stroke:"#c8c8c8", strokeWidth:1.2}),
      Plot.line(data,{x:"V", y:"I", stroke:"#1a1aff", strokeWidth:1.5, clip:true})
    ]
  });
  svg.style.left=(x0-ML)+"px";
  svg.style.top=(y0-MT)+"px";
  chart.append(svg);
});
</script></body></html>
